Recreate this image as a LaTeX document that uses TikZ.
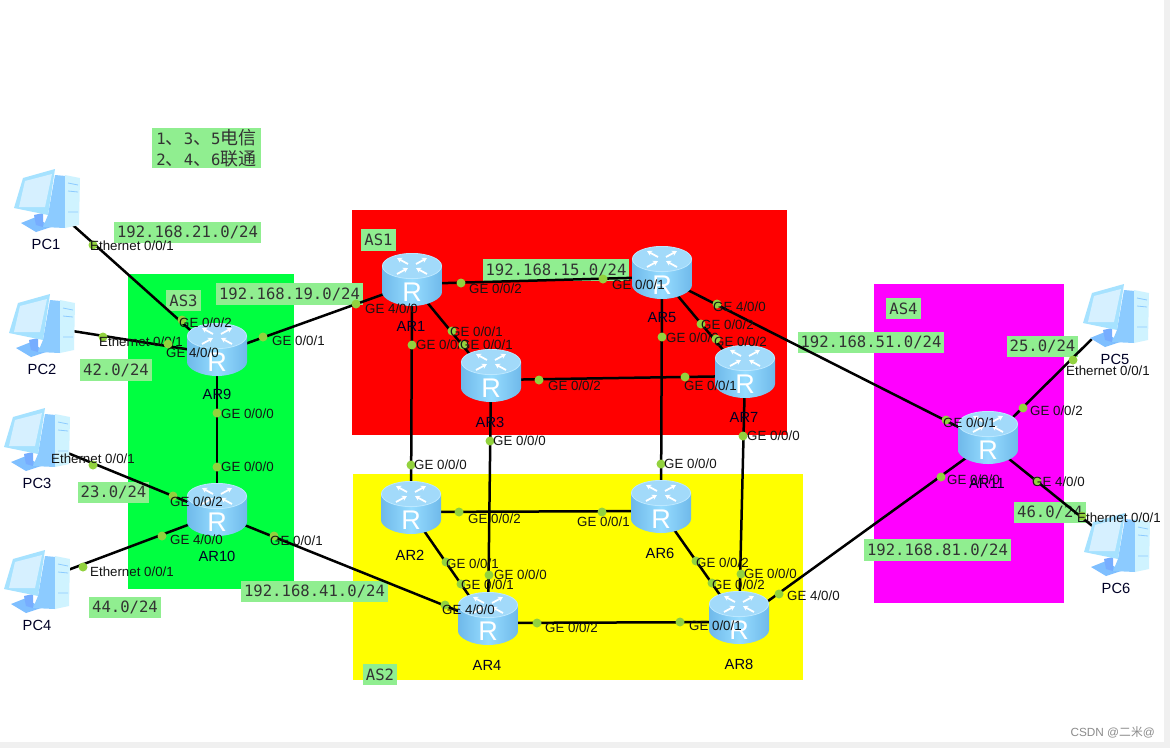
\documentclass[tikz,border=0pt]{standalone}
\usepackage{fontspec}
\setmainfont{Liberation Sans}
\newfontfamily\monofont{DejaVu Sans Mono}
\newfontfamily\cjk{Noto Sans CJK SC}
\usetikzlibrary{arrows.meta,backgrounds}

\definecolor{pagegray}{HTML}{F0F0F0}
\definecolor{netgreen}{HTML}{90EE90}
\definecolor{portgreen}{HTML}{92D23E}
\definecolor{asred}{HTML}{FF0000}
\definecolor{asyellow}{HTML}{FFFF00}
\definecolor{asgreen}{HTML}{00FF40}
\definecolor{asmagenta}{HTML}{FF00FF}
\definecolor{bodyedge}{HTML}{6FB9EA}
\definecolor{bodymid}{HTML}{96DCFF}
\definecolor{topface}{HTML}{A2DAFA}
\definecolor{toprim}{HTML}{BDE8FF}
\definecolor{pcframe}{HTML}{A6E2FF}
\definecolor{pcscreen}{HTML}{D6F0FF}
\definecolor{pcside}{HTML}{8CCBFF}
\definecolor{pctower}{HTML}{CFF3FF}
\definecolor{pcbase}{HTML}{7FBFFF}

\begin{document}
\begin{tikzpicture}[
      x=1pt, y=-1pt,
      link/.style={line width=2.5pt, black},
      port/.style={circle, fill=portgreen, inner sep=0pt, minimum size=9pt},
      iftext/.style={anchor=west, inner sep=0pt, font=\fontsize{13.3}{14}\selectfont, text=black!92},
      devname/.style={inner sep=0pt, font=\fontsize{14.7}{16}\selectfont, text=black!85!blue},
      netlabel/.style={fill=netgreen, inner xsep=3pt, inner ysep=0pt, minimum height=21.5pt, text=black!80, font=\monofont\fontsize{15.6}{17}\selectfont},
      turn/.style={white, line width=1.8pt, -{Stealth[length=5pt,width=5.5pt]}},
      router/.style={rectangle, inner sep=0pt, minimum width=61pt, minimum height=64pt,
        path picture={
          \begin{scope}[shift={(path picture bounding box.center)}]
            \shade[left color=bodyedge, right color=bodyedge, middle color=bodymid]
              (-30,-18) -- (-30,8) .. controls (-30,15) and (-16,22) .. (0,22) .. controls (16,22) and (30,15) .. (30,8) -- (30,-18) -- cycle;
            \fill[topface, draw=toprim, line width=0.8pt] (0,-18) ellipse [x radius=29.6, y radius=12.6];
            \draw[turn] (-4,-20) -- (-15,-26);
            \draw[turn] (15,-10) -- (4,-16);
            \draw[turn] (4,-20) -- (15,-26);
            \draw[turn] (-15,-10) -- (-4,-16);
            \node[white, inner sep=0pt, font=\fontsize{27}{28}\selectfont] at (0,8) {R};
          \end{scope}
        }},
      pcbox/.style={rectangle, inner sep=0pt, minimum width=68pt, minimum height=66pt,
        path picture={
          \begin{scope}[shift={(path picture bounding box.center)}]
            \fill[white] (-32,7) -- (-23,-23) -- (9,-32) -- (34,-23) -- (33,24) -- (19,27) -- (-10,31) -- (-25,22) -- cycle;
            \fill[pcbase] (-25,22) -- (-10,16) -- (5,26) -- (-10,31) -- cycle;
            \fill[pcside!85!blue] (-12,14) -- (-3,12) -- (-3,26) -- (-10,24) -- cycle;
            \fill[pcside] (9,-26) -- (20,-25) -- (19,27) -- (-3,26) -- (2,14) -- cycle;
            \fill[pctower] (19,-26) -- (34,-23) -- (33,24) -- (19,27) -- cycle;
            \draw[pcside, line width=0.8pt] (22,-18) -- (32,-16) (22,-10) -- (32,-9) (22,11) -- (32,11);
            \fill[pcframe] (-23,-23) -- (9,-32) -- (2,14) -- (-32,7) -- cycle;
            \fill[pcscreen] (-21,-20) -- (6,-27) -- (-1,6) -- (-27,6) -- cycle;
          \end{scope}
        }}
    ]

    \useasboundingbox (0,0) rectangle (1170,748);

    % ================= devices =================
    \node[router] (AR1) at (412,284) {};
    \node[router] (AR2) at (411,512) {};
    \node[router] (AR3) at (491,380) {};
    \node[router] (AR4) at (488,623) {};
    \node[router] (AR5) at (662,277) {};
    \node[router] (AR6) at (661,511) {};
    \node[router] (AR7) at (745,376) {};
    \node[router] (AR8) at (739,622) {};
    \node[router] (AR9) at (217,354) {};
    \node[router] (AR10) at (217,514) {};
    \node[router] (AR11) at (988,442) {};

    \node[pcbox] (PC1) at (46,201) {};
    \node[pcbox] (PC2) at (41,326) {};
    \node[pcbox] (PC3) at (36,440) {};
    \node[pcbox] (PC4) at (36,582) {};
    \node[pcbox] (PC5) at (1115,316) {};
    \node[pcbox] (PC6) at (1116,545) {};

    \begin{scope}[on background layer]
    % ---- page and AS areas ----
    \fill[pagegray] (0,0) rectangle (1170,748);
    \fill[white] (0,0) rectangle (1164,742);
    \fill[asred] (352,210) rectangle (787,435);
    \fill[asyellow] (353,474) rectangle (803,680);
    \fill[asgreen] (128,274) rectangle (294,589);
    \fill[asmagenta] (874,284) rectangle (1064,603);

    % ---- subnet and AS labels ----
    \node[netlabel, align=left, minimum width=109pt, inner ysep=1pt] (note) at (206.5,148) {1{\cjk\fontsize{18}{17}\selectfont 、}3{\cjk\fontsize{18}{17}\selectfont 、}5{\cjk\fontsize{18}{17}\selectfont 电信}\\[4pt]2{\cjk\fontsize{18}{17}\selectfont 、}4{\cjk\fontsize{18}{17}\selectfont 、}6{\cjk\fontsize{18}{17}\selectfont 联通}};
    \node[netlabel] (AS1) at (378.5,240) {AS1};
    \node[netlabel] (AS2) at (380,674.5) {AS2};
    \node[netlabel] (AS3) at (183.5,300.5) {AS3};
    \node[netlabel] (AS4) at (903.5,308.5) {AS4};
    \node[netlabel] (net21) at (187.5,232.5) {192.168.21.0/24};
    \node[netlabel] (net19) at (289.5,294) {192.168.19.0/24};
    \node[netlabel] (net15) at (556,270) {192.168.15.0/24};
    \node[netlabel] (net41) at (314.5,591.5) {192.168.41.0/24};
    \node[netlabel] (net51) at (871,342.5) {192.168.51.0/24};
    \node[netlabel] (net81) at (937.5,550) {192.168.81.0/24};
    \node[netlabel] (net42) at (116,370) {42.0/24};
    \node[netlabel] (net23) at (113.5,492.5) {23.0/24};
    \node[netlabel] (net44) at (125,607.5) {44.0/24};
    \node[netlabel] (net25) at (1042.5,346.5) {25.0/24};
    \node[netlabel] (net46) at (1050,512.5) {46.0/24};

    % ---- links ----
    \draw[link] (PC1.center) -- (AR9.center);
    \draw[link] (PC2.center) -- (AR9.center);
    \draw[link] (PC3.center) -- (AR10.center);
    \draw[link] (PC4.center) -- (AR10.center);
    \draw[link] (PC5.center) -- (AR11.center);
    \draw[link] (PC6.center) -- (AR11.center);
    \draw[link] (AR9.center) -- (AR1.center);
    \draw[link] (AR9.center) -- (AR10.center);
    \draw[link] (AR10.center) -- (AR4.center);
    \draw[link] (AR1.center) -- (AR5.center);
    \draw[link] (AR1.center) -- (AR3.center);
    \draw[link] (AR1.center) -- (AR2.center);
    \draw[link] (AR3.center) -- (AR7.center);
    \draw[link] (AR3.center) -- (AR4.center);
    \draw[link] (AR5.center) -- (AR7.center);
    \draw[link] (AR5.center) -- (AR6.center);
    \draw[link] (AR5.center) -- (AR11.center);
    \draw[link] (AR7.center) -- (AR8.center);
    \draw[link] (AR2.center) -- (AR6.center);
    \draw[link] (AR2.center) -- (AR4.center);
    \draw[link] (AR6.center) -- (AR8.center);
    \draw[link] (AR4.center) -- (AR8.center);
    \draw[link] (AR8.center) -- (AR11.center);
    \end{scope}

    % ================= device names =================
    \node[devname] (nameAR1) at (411,326) {AR1};
    \node[devname] (nameAR2) at (410,555) {AR2};
    \node[devname] (nameAR3) at (490,422) {AR3};
    \node[devname] (nameAR4) at (487,665) {AR4};
    \node[devname] (nameAR5) at (662,318) {AR5};
    \node[devname] (nameAR6) at (660,553) {AR6};
    \node[devname] (nameAR7) at (744,417) {AR7};
    \node[devname] (nameAR8) at (739,664) {AR8};
    \node[devname] (nameAR9) at (217,394) {AR9};
    \node[devname] (nameAR10) at (217,556) {AR10};
    \node[devname] (nameAR11) at (987,483) {AR11};
    \node[devname] (namePC1) at (46,244) {PC1};
    \node[devname] (namePC2) at (42,369) {PC2};
    \node[devname] (namePC3) at (37,483) {PC3};
    \node[devname] (namePC4) at (37,625) {PC4};
    \node[devname] (namePC5) at (1115,359) {PC5};
    \node[devname] (namePC6) at (1116,588) {PC6};

    % ================= ports: AS3 side =================
    \node[port] (pPC1) at (93,245) {};        \node[iftext] (tPC1) at (90,246) {Ethernet 0/0/1};
    \node[port] (pPC2) at (103,337) {};       \node[iftext] (tPC2) at (99,342) {Ethernet 0/0/1};
    \node[port] (pPC3) at (93,465) {};        \node[iftext] (tPC3) at (51,459) {Ethernet 0/0/1};
    \node[port] (pPC4) at (83,567) {};        \node[iftext] (tPC4) at (90,572) {Ethernet 0/0/1};
    \node[port] (pAR9a) at (182,320) {};      \node[iftext] (tAR9a) at (179,323) {GE 0/0/2};
    \node[port] (pAR9b) at (168,344) {};      \node[iftext] (tAR9b) at (166,353) {GE 4/0/0};
    \node[port] (pAR9c) at (263,337) {};      \node[iftext] (tAR9c) at (272,341) {GE 0/0/1};
    \node[port] (pAR9d) at (217,413) {};      \node[iftext] (tAR9d) at (221,414) {GE 0/0/0};
    \node[port] (pAR10a) at (217,467) {};     \node[iftext] (tAR10a) at (221,467) {GE 0/0/0};
    \node[port] (pAR10b) at (173,496) {};     \node[iftext] (tAR10b) at (170,502) {GE 0/0/2};
    \node[port] (pAR10c) at (162,536) {};     \node[iftext] (tAR10c) at (170,540) {GE 4/0/0};
    \node[port] (pAR10d) at (274,536) {};     \node[iftext] (tAR10d) at (270,541) {GE 0/0/1};

    % ================= ports: AS1 =================
    \node[port] (pAR1a) at (356,304) {};      \node[iftext] (tAR1a) at (365,309) {GE 4/0/0};
    \node[port] (pAR1b) at (461,283) {};      \node[iftext] (tAR1b) at (469,289) {GE 0/0/2};
    \node[port] (pAR1c) at (452,331) {};      \node[iftext] (tAR1c) at (450,332) {GE 0/0/1};
    \node[port] (pAR1d) at (412,345) {};      \node[iftext] (tAR1d) at (416,345) {GE 0/0/0};
    \node[port] (pAR3a) at (463,345) {};      \node[iftext] (tAR3a) at (460,345) {GE 0/0/1};
    \node[port] (pAR3b) at (539,380) {};      \node[iftext] (tAR3b) at (548,386) {GE 0/0/2};
    \node[port] (pAR3c) at (490,441) {};      \node[iftext] (tAR3c) at (493,441) {GE 0/0/0};
    \node[port] (pAR5a) at (603,279) {};      \node[iftext] (tAR5a) at (612,285) {GE 0/0/1};
    \node[port] (pAR5b) at (662,337) {};      \node[iftext] (tAR5b) at (666,338) {GE 0/0/0};
    \node[port] (pAR5c) at (717,304) {};      \node[iftext] (tAR5c) at (713,307) {GE 4/0/0};
    \node[port] (pAR5d) at (701,324) {};      \node[iftext] (tAR5d) at (701,325) {GE 0/0/2};
    \node[port] (pAR7a) at (716,339) {};      \node[iftext] (tAR7a) at (714,342) {GE 0/0/2};
    \node[port] (pAR7b) at (685,377) {};      \node[iftext] (tAR7b) at (684,386) {GE 0/0/1};
    \node[port] (pAR7c) at (743,436) {};      \node[iftext] (tAR7c) at (747,436) {GE 0/0/0};

    % ================= ports: AS2 =================
    \node[port] (pAR2a) at (411,465) {};      \node[iftext] (tAR2a) at (414,465) {GE 0/0/0};
    \node[port] (pAR2b) at (459,512) {};      \node[iftext] (tAR2b) at (468,519) {GE 0/0/2};
    \node[port] (pAR2c) at (446,562) {};      \node[iftext] (tAR2c) at (446,564) {GE 0/0/1};
    \node[port] (pAR4a) at (461,584) {};      \node[iftext] (tAR4a) at (461,585) {GE 0/0/1};
    \node[port] (pAR4b) at (489,575) {};      \node[iftext] (tAR4b) at (494,575) {GE 0/0/0};
    \node[port] (pAR4c) at (445,605) {};      \node[iftext] (tAR4c) at (442,610) {GE 4/0/0};
    \node[port] (pAR4d) at (537,623) {};      \node[iftext] (tAR4d) at (545,628) {GE 0/0/2};
    \node[port] (pAR6a) at (661,464) {};      \node[iftext] (tAR6a) at (664,464) {GE 0/0/0};
    \node[port] (pAR6b) at (602,512) {};      \node[iftext] (tAR6b) at (577,522) {GE 0/0/1};
    \node[port] (pAR6c) at (696,561) {};      \node[iftext] (tAR6c) at (696,563) {GE 0/0/2};
    \node[port] (pAR8a) at (712,583) {};      \node[iftext] (tAR8a) at (712,585) {GE 0/0/2};
    \node[port] (pAR8b) at (741,574) {};      \node[iftext] (tAR8b) at (744,574) {GE 0/0/0};
    \node[port] (pAR8c) at (779,594) {};      \node[iftext] (tAR8c) at (787,596) {GE 4/0/0};
    \node[port] (pAR8d) at (680,622) {};      \node[iftext] (tAR8d) at (689,626) {GE 0/0/1};

    % ================= ports: AS4 side =================
    \node[port] (pAR11a) at (946,420) {};     \node[iftext] (tAR11a) at (943,423) {GE 0/0/1};
    \node[port] (pAR11b) at (941,477) {};     \node[iftext] (tAR11b) at (947,480) {GE 0/0/0};
    \node[port] (pAR11c) at (1023,408) {};    \node[iftext] (tAR11c) at (1030,411) {GE 0/0/2};
    \node[port] (pAR11d) at (1037,481) {};    \node[iftext] (tAR11d) at (1032,482) {GE 4/0/0};
    \node[port] (pPC5) at (1073,360) {};      \node[iftext] (tPC5) at (1066,371) {Ethernet 0/0/1};
    \node[port] (pPC6) at (1082,516) {};      \node[iftext] (tPC6) at (1077,518) {Ethernet 0/0/1};

    \node[inner sep=0pt, anchor=east, text=black!45, font=\fontsize{11.8}{13}\selectfont] (mark) at (1155,732) {CSDN @{\cjk 二米}@};

\end{tikzpicture}
\end{document}
